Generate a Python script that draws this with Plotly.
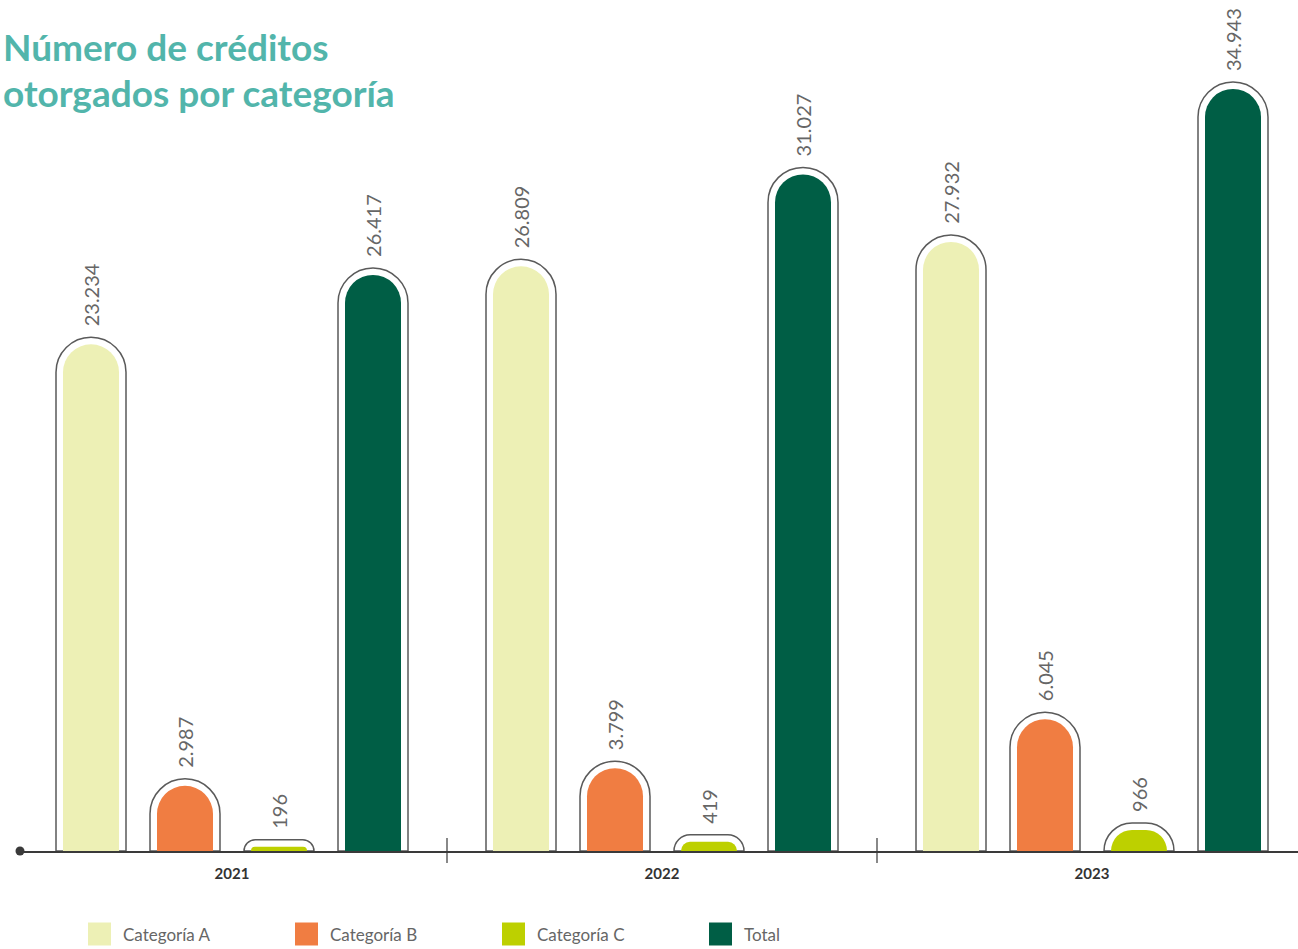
import plotly.graph_objects as go

# ---- data ----
years = ["2021", "2022", "2023"]
categories = ["Categoría A", "Categoría B", "Categoría C", "Total"]
cat_a = [23234, 26809, 27932]
cat_b = [2987, 3799, 6045]
cat_c = [196, 419, 966]
total = [26417, 31027, 34943]
series = [cat_a, cat_b, cat_c, total]

colors = ["#EDF0B5", "#F07D42", "#BDD000", "#005E45"]
outline_color = "#5A5A5A"
text_grey = "#666666"
axis_color = "#3A3A3A"
title_color = "#52B5AB"
font_family = "Lato, 'Open Sans', sans-serif"

# ---- layout geometry (pixels) ----
W, H = 1298, 949
M_L, M_R, M_T, M_B = 20, 0, 0, 98
plot_w = W - M_L - M_R
plot_h = H - M_T - M_B
PX_PER_GROUP = 430          # width of one year group
FIRST_CENTER_PX = 212       # first group centre measured from plot left
Y_MAX = 39024

x_range = [-FIRST_CENTER_PX / PX_PER_GROUP,
           -FIRST_CENTER_PX / PX_PER_GROUP + plot_w / PX_PER_GROUP]


def px_x(p):
    return p / PX_PER_GROUP


def px_y(p):
    return p * Y_MAX / plot_h


slot_centers_px = [-141, -47, 47, 141]
INNER_W = 56
OUTER_W = 70
OUTER_PAD = 7     # white gap between bar and capsule outline
LABEL_PAD = 15    # extra lift for value labels

year_idx = list(range(len(years)))


def fmt(v):
    return f"{v:,}".replace(",", ".")


fig = go.Figure()

for i, vals in enumerate(series):
    xs = [k + px_x(slot_centers_px[i]) for k in year_idx]
    # capsule outline
    fig.add_trace(go.Bar(
        x=xs, y=[v + px_y(OUTER_PAD) for v in vals],
        xaxis="x", yaxis="y",
        width=px_x(OUTER_W),
        marker=dict(color="white", line=dict(color=outline_color, width=1.5),
                    cornerradius="50%"),
        showlegend=False, hoverinfo="skip",
    ))
    # coloured bar
    fig.add_trace(go.Bar(
        x=xs, y=vals, name=categories[i],
        xaxis="x2", yaxis="y",
        width=px_x(INNER_W),
        marker=dict(color=colors[i], line=dict(width=0), cornerradius="50%"),
        customdata=years, showlegend=False,
        hovertemplate="%{customdata}: %{y:,}<extra>" + categories[i] + "</extra>",
    ))
    # rotated value label
    fig.add_trace(go.Bar(
        x=xs, y=[v + px_y(LABEL_PAD) for v in vals],
        xaxis="x3", yaxis="y",
        width=px_x(OUTER_W),
        marker=dict(color="rgba(0,0,0,0)", line=dict(width=0)),
        text=[fmt(v) for v in vals],
        textposition="outside", textangle=-90,
        constraintext="none", cliponaxis=False,
        outsidetextfont=dict(family=font_family, size=20, color=text_grey),
        showlegend=False, hoverinfo="skip",
    ))

shapes = []
# dot at the start of the baseline
shapes.append(dict(type="circle", xref="paper", yref="paper",
                   xsizemode="pixel", ysizemode="pixel", xanchor=0, yanchor=0,
                   x0=-4.5, x1=4.5, y0=-4.5, y1=4.5,
                   fillcolor=axis_color, line=dict(width=0), layer="above"))
# separators between year groups
for b in range(len(years) - 1):
    shapes.append(dict(type="line", xref="x", yref="paper",
                       ysizemode="pixel", yanchor=0,
                       x0=b + 0.5, x1=b + 0.5, y0=-12, y1=13,
                       line=dict(color=axis_color, width=1.2), layer="above"))

annotations = []
# title, two lines
TITLE_LINES = ["Número de créditos", "otorgados por categoría"]
TITLE_MID_PX = [47, 92]
for line, ymid in zip(TITLE_LINES, TITLE_MID_PX):
    annotations.append(dict(xref="paper", yref="paper",
                            x=(1 - M_L) / plot_w, y=(H - M_B - ymid) / plot_h,
                            xanchor="left", yanchor="middle", showarrow=False,
                            text=line,
                            font=dict(family=font_family, size=37, color=title_color,
                                      weight="bold")))

# legend swatches and labels
LEG_X0 = 88
LEG_STEP = 207
LEG_SIZE = 23
LEG_YC = 934
for i, name in enumerate(categories):
    x0 = LEG_X0 + i * LEG_STEP
    shapes.append(dict(type="rect", xref="paper", yref="paper",
                       x0=(x0 - M_L) / plot_w, x1=(x0 + LEG_SIZE - M_L) / plot_w,
                       y0=(H - M_B - (LEG_YC + LEG_SIZE / 2)) / plot_h,
                       y1=(H - M_B - (LEG_YC - LEG_SIZE / 2)) / plot_h,
                       fillcolor=colors[i], line=dict(width=0)))
    annotations.append(dict(xref="paper", yref="paper",
                            x=(x0 + LEG_SIZE + 10 - M_L) / plot_w,
                            y=(H - M_B - LEG_YC) / plot_h,
                            xanchor="left", yanchor="middle", showarrow=False,
                            text=name,
                            font=dict(family=font_family, size=17, color=text_grey)))

hidden_x = dict(range=x_range, overlaying="x", showgrid=False, zeroline=False,
                showticklabels=False, ticks="", fixedrange=True)

fig.update_layout(
    width=W, height=H,
    margin=dict(l=M_L, r=M_R, t=M_T, b=M_B),
    paper_bgcolor="white", plot_bgcolor="white",
    barmode="overlay",
    showlegend=False,
    xaxis=dict(range=x_range, showgrid=False, zeroline=False,
               showline=True, linecolor=axis_color, linewidth=1.5,
               tickmode="array", tickvals=year_idx, ticktext=years,
               ticks="", ticklabelstandoff=8, fixedrange=True,
               tickfont=dict(family=font_family, size=15, color="#333333", weight="bold")),
    xaxis2=dict(hidden_x, showline=False),
    xaxis3=dict(hidden_x, showline=True, linecolor=axis_color, linewidth=1.5),
    yaxis=dict(range=[0, Y_MAX], visible=False, showgrid=False, zeroline=False,
               fixedrange=True),
    shapes=shapes,
    annotations=annotations,
)

fig.write_html("out.html")
